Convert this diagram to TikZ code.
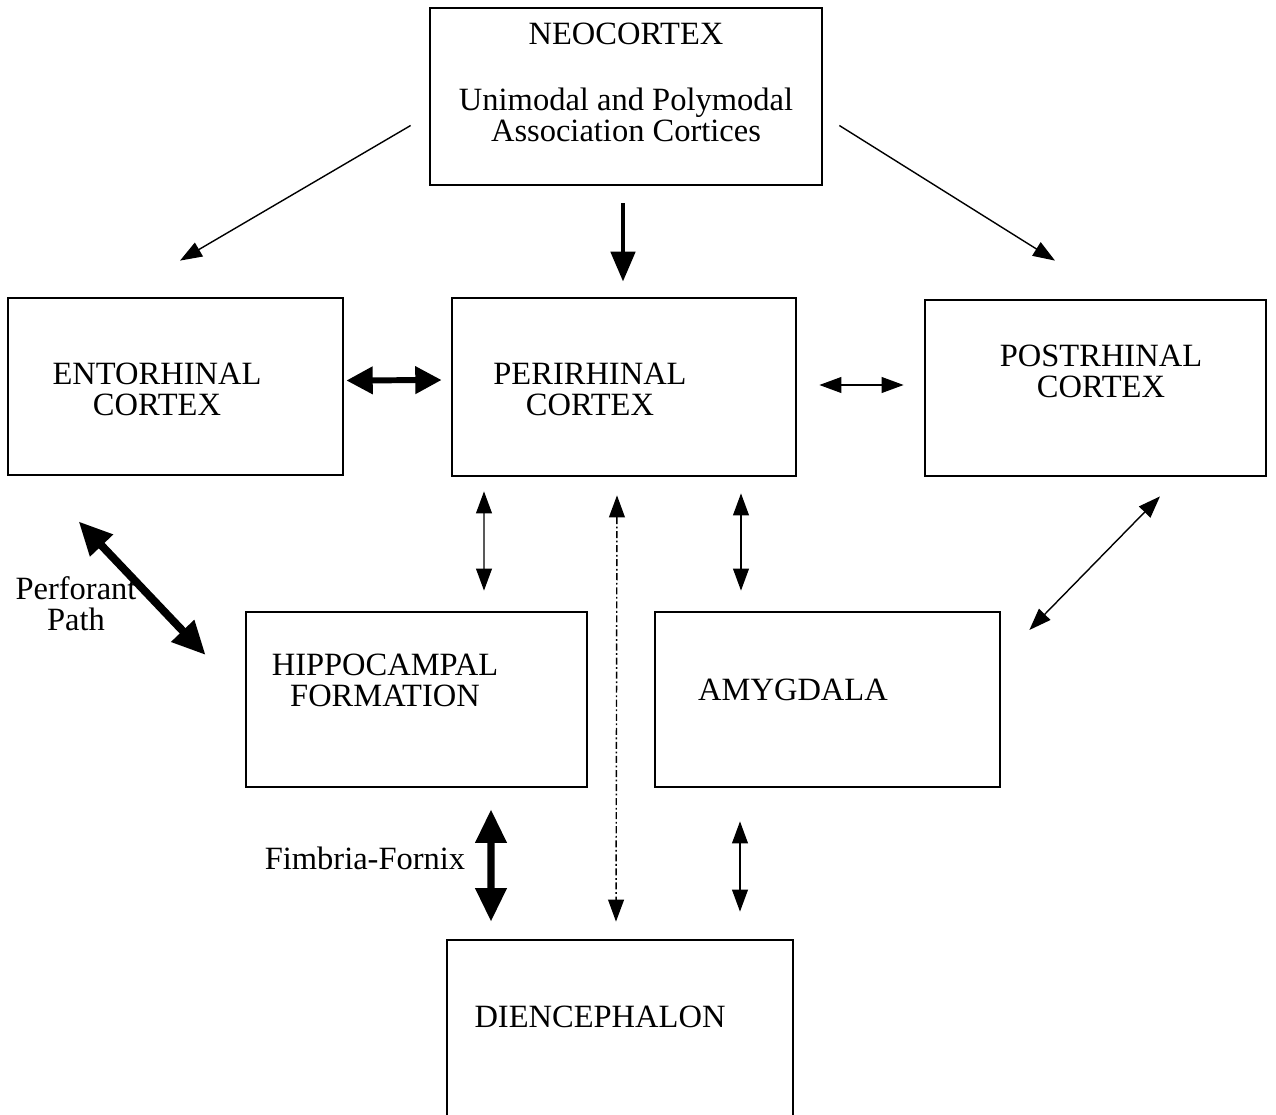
\documentclass[tikz,border=0pt]{standalone}
\usepackage{fontspec}
\setmainfont{Liberation Serif}
\usetikzlibrary{positioning, arrows.meta, calc}

\begin{document}
\begin{tikzpicture}[x=0.02cm, y=-0.02cm,
    regionbox/.style={rectangle, draw=black, line width=1.6pt, inner sep=0pt},
    regiontext/.style={align=center, inner sep=0pt, font=\fontsize{18.5}{17.6}\selectfont},
    thinarrow/.style={{Triangle[length=12.5pt, width=9pt]}-{Triangle[length=12.5pt, width=9pt]}, line width=0.8pt},
    onearrow/.style={-{Triangle[length=12.5pt, width=9pt]}, line width=0.8pt},
    downarrow/.style={-{Triangle[length=17pt, width=13.6pt]}, line width=2.8pt},
    midarrow/.style={{Triangle[length=15pt, width=15pt]}-{Triangle[length=15pt, width=15pt]}, line width=3.4pt},
    fatarrow/.style={{Triangle[length=19pt, width=17pt]}-{Triangle[length=19pt, width=17pt]}, line width=4pt},
]
\useasboundingbox (0,0) rectangle (1276,1115);
\clip (0,0) rectangle (1276,1115);

% boxes
\node[regionbox, minimum width=7.84cm, minimum height=3.54cm] (neo) at (626,96.5) {};
\node[regionbox, minimum width=6.7cm, minimum height=3.54cm] (ento) at (175.5,386.5) {};
\node[regionbox, minimum width=6.88cm, minimum height=3.56cm] (peri) at (624,387) {};
\node[regionbox, minimum width=6.82cm, minimum height=3.52cm] (post) at (1095.5,388) {};
\node[regionbox, minimum width=6.82cm, minimum height=3.5cm] (hippo) at (416.5,699.5) {};
\node[regionbox, minimum width=6.9cm, minimum height=3.5cm] (amyg) at (827.5,699.5) {};
\node[regionbox, minimum width=6.92cm, minimum height=4cm] (dien) at (620,1040) {};

% box texts
\node[regiontext] (neo-t) at (626,82) {NEOCORTEX\\[20pt]Unimodal and Polymodal\\Association Cortices};
\node[regiontext] (ento-t) at (157,389) {ENTORHINAL\\CORTEX};
\node[regiontext] (peri-t) at (590,389) {PERIRHINAL\\CORTEX};
\node[regiontext] (post-t) at (1101,371) {POSTRHINAL\\CORTEX};
\node[regiontext] (hippo-t) at (385,680) {HIPPOCAMPAL\\FORMATION};
\node[regiontext] (amyg-t) at (793,690) {AMYGDALA};
\node[regiontext] (dien-t) at (600,1017) {DIENCEPHALON};

% pathway labels
\node[regiontext] (perf-t) at (76,604) {Perforant\\Path};
\node[regiontext] (fimb-t) at (365,858) {Fimbria-Fornix};

% connections
\draw[onearrow] ($(neo.west)+(-18,29)$) -- ($(ento.north)+(4.5,-36)$);
\draw[downarrow] ($(neo.south)+(-3,17)$) -- ($(peri.north)+(-1,-15)$);
\draw[onearrow] ($(neo.east)+(16,29)$) -- ($(post.north)+(-40.5,-38)$);
\draw[midarrow] ($(ento.east)+(2,-6)$) -- ($(peri.west)+(-9,-7)$);
\draw[thinarrow] ($(peri.east)+(22,-2)$) -- ($(post.west)+(-20,-3)$);
\draw[thinarrow] ($(peri.south)+(-140,14)$) -- ($(hippo.north)+(67.5,-20)$);
\draw[thinarrow, dash pattern=on 4pt off 1.5pt on 1pt off 1.5pt] ($(peri.south)+(-7,18)$) -- ($(dien.north)+(-4,-17)$);
\draw[thinarrow] ($(peri.south)+(117,16)$) -- ($(amyg.north)+(-86.5,-20)$);
\draw[thinarrow] ($(post.south)+(64.5,19)$) -- ($(amyg.east)+(28,-69.5)$);
\draw[fatarrow, line width=4.5pt] ($(ento.south west)+(72,45)$) -- ($(hippo.west)+(-39,-44.5)$);
\draw[fatarrow] ($(hippo.south)+(74.5,21)$) -- ($(dien.north)+(-129,-17)$);
\draw[thinarrow] ($(amyg.south)+(-87.5,33)$) -- ($(dien.north)+(120,-27)$);
\end{tikzpicture}
\end{document}
